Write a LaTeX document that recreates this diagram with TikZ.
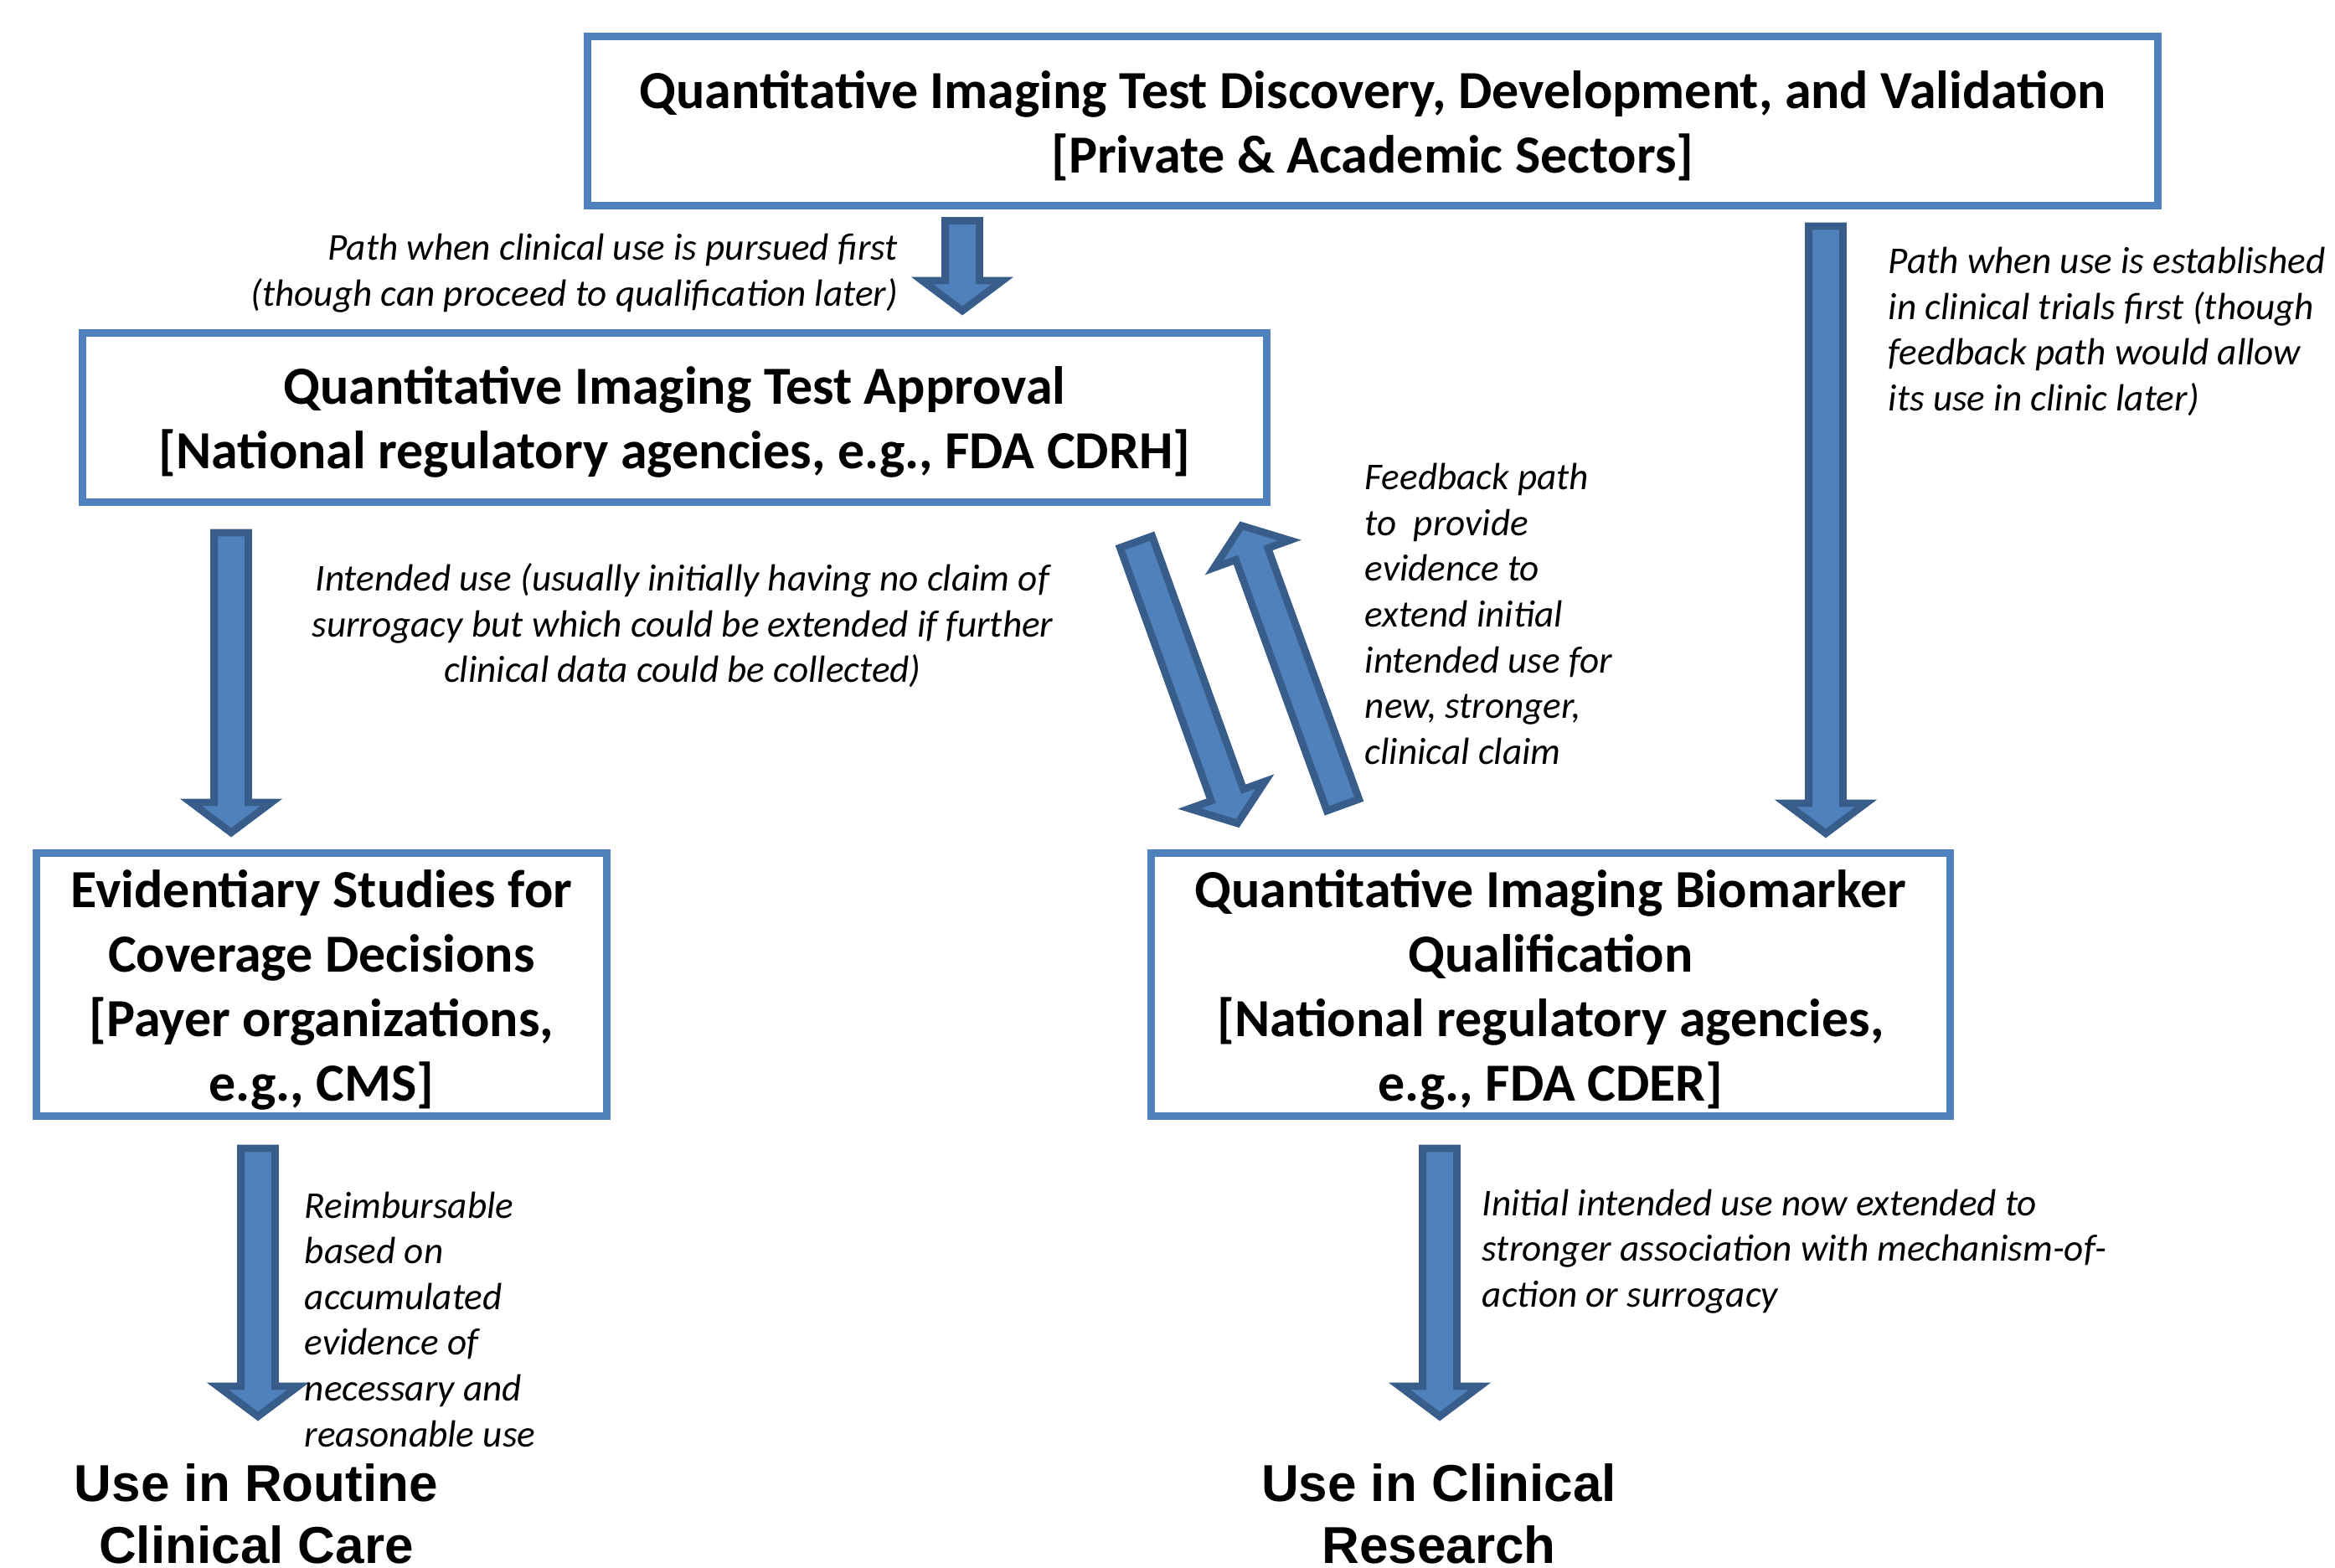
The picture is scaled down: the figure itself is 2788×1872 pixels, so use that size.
\documentclass[tikz,border=0pt]{standalone}
\usepackage{fontspec}
\setmainfont{Carlito}
\newfontfamily\arialb{Liberation Sans}
\usetikzlibrary{calc}
\definecolor{boxblue}{HTML}{4F81BD}
\definecolor{arrowedge}{HTML}{385D8A}
\newcommand\sw{5.1pt}
\newcommand\hw{12pt}
\newcommand\hl{9pt}
\newcommand\blockarrow[2]{%
  \coordinate (hb) at ($(#2)!\hl!(#1)$);
  \draw[barrow] ($(#1)!\sw!90:(#2)$) -- ($(hb)!\sw!-90:(#1)$) -- ($(hb)!\hw!-90:(#1)$) -- (#2)
    -- ($(hb)!\hw!90:(#1)$) -- ($(hb)!\sw!90:(#1)$) -- ($(#1)!\sw!-90:(#2)$) -- cycle;}
\tikzset{
  box/.style={draw=boxblue, line width=2.25pt, fill=white, inner sep=0pt},
  boxtxt/.style={align=center, inner sep=0pt, font=\bfseries\fontsize{16}{19.25}\selectfont},
  barrow/.style={fill=boxblue, draw=arrowedge, line width=2.2pt, line join=miter},
  lab/.style={inner sep=0pt, font=\itshape\fontsize{11.3}{13.65}\selectfont},
  endtxt/.style={inner sep=0pt, align=center, font=\arialb\bfseries\fontsize{15.5}{18.5}\selectfont}
}
\begin{document}
\begin{tikzpicture}[x=0.25pt,y=-0.25pt]
\useasboundingbox (0,0) rectangle (2788,1872);
% boxes
\node[box, minimum width={1875*0.25pt}, minimum height={202*0.25pt}] (disc) at (1639,144.5) {};
\node[boxtxt] (disctxt) at ($(disc.center)+(0,6)$)
  {Quantitative Imaging Test Discovery, Development, and Validation\\{}[Private \& Academic Sectors]};
\node[box, minimum width={1414*0.25pt}, minimum height={202*0.25pt}] (appr) at (805.5,498.5) {};
\node[boxtxt] (apprtxt) at ($(appr.center)+(0,5)$)
  {Quantitative Imaging Test Approval\\{}[National regulatory agencies, e.g., FDA CDRH]};
\node[box, minimum width={681*0.25pt}, minimum height={314*0.25pt}] (evid) at (384,1175.5) {};
\node[boxtxt] (evidtxt) at ($(evid.center)+(0,6)$)
  {Evidentiary Studies for\\Coverage Decisions\\{}[Payer organizations,\\e.g., CMS]};
\node[box, minimum width={954*0.25pt}, minimum height={314*0.25pt}] (qual) at (1851.5,1175.5) {};
\node[boxtxt] (qualtxt) at ($(qual.center)+(0,6)$)
  {Quantitative Imaging Biomarker\\Qualification\\{}[National regulatory agencies,\\e.g., FDA CDER]};
% end texts
\node[endtxt] (routine) at (306,1807) {Use in Routine\\Clinical Care};
\node[endtxt] (research) at (1718,1807) {Use in Clinical\\Research};
% arrow end points
\coordinate (a1t) at (1149,263.5); \coordinate (a1h) at (1149,371);
\coordinate (a2t) at (276,636);    \coordinate (a2h) at (276,994);
\coordinate (a3t) at (308,1371);   \coordinate (a3h) at (308,1691);
\coordinate (a4t) at (1719,1371);  \coordinate (a4h) at (1719,1691);
\coordinate (a5t) at (2180,270);   \coordinate (a5h) at (2180,995);
\coordinate (a6t) at (1356.5,647); \coordinate (a6h) at (1477.6,983);
\coordinate (a7t) at (1603.5,961); \coordinate (a7h) at (1482.4,627.6);
\blockarrow{a1t}{a1h}
\blockarrow{a2t}{a2h}
\blockarrow{a3t}{a3h}
\blockarrow{a4t}{a4h}
\blockarrow{a5t}{a5h}
\blockarrow{a6t}{a6h}
\blockarrow{a7t}{a7h}
% labels
\node[lab, align=right, anchor=east] (l1) at (1073,326)
  {Path when clinical use is pursued first\\(though can proceed to qualification later)};
\node[lab, align=center] (l2) at (815,747)
  {Intended use (usually initially having no claim of\\surrogacy but which could be extended if further\\clinical data could be collected)};
\node[lab, align=left, anchor=west] (l3) at (1629,733)
  {Feedback path\\to\ \ provide\\evidence to\\extend initial\\intended use for\\new, stronger,\\clinical claim};
\node[lab, align=left, anchor=west] (l4) at (2254,396)
  {Path when use is established\\in clinical trials first (though\\feedback path would allow\\its use in clinic later)};
\node[lab, align=left, anchor=west] (l5) at (363,1575)
  {Reimbursable\\based on\\accumulated\\evidence of\\necessary and\\reasonable use};
\node[lab, align=left, anchor=west] (l6) at (1769,1494)
  {Initial intended use now extended to\\stronger association with mechanism-of-\\action or surrogacy};
\end{tikzpicture}
\end{document}
